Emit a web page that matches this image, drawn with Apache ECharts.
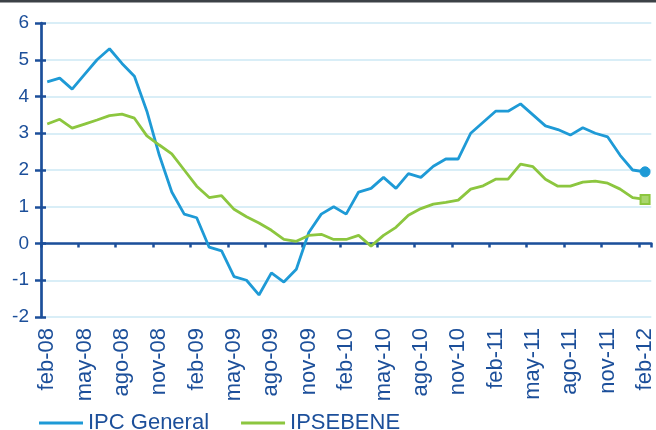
<!DOCTYPE html>
<html>
<head>
<meta charset="utf-8">
<script src="https://cdn.jsdelivr.net/npm/echarts@6/dist/echarts.min.js"></script>
<style>
  html, body { margin: 0; padding: 0; background: #fff; }
  #chart { width: 656px; height: 430px; }
</style>
</head>
<body>
<div id="chart"></div>
<script>
// months feb-08 .. feb-12
const months = [
  'feb-08', 'mar-08', 'abr-08', 'may-08', 'jun-08', 'jul-08', 'ago-08', 'sep-08', 'oct-08', 'nov-08', 'dic-08',
  'ene-09', 'feb-09', 'mar-09', 'abr-09', 'may-09', 'jun-09', 'jul-09', 'ago-09', 'sep-09', 'oct-09', 'nov-09', 'dic-09',
  'ene-10', 'feb-10', 'mar-10', 'abr-10', 'may-10', 'jun-10', 'jul-10', 'ago-10', 'sep-10', 'oct-10', 'nov-10', 'dic-10',
  'ene-11', 'feb-11', 'mar-11', 'abr-11', 'may-11', 'jun-11', 'jul-11', 'ago-11', 'sep-11', 'oct-11', 'nov-11', 'dic-11',
  'ene-12', 'feb-12'
];

const ipcGeneral = [
  4.4, 4.5, 4.2, 4.6, 5.0, 5.3, 4.9, 4.55, 3.6, 2.4, 1.4,
  0.8, 0.7, -0.1, -0.2, -0.9, -1.0, -1.4, -0.8, -1.05, -0.7, 0.3, 0.8,
  1.0, 0.8, 1.4, 1.5, 1.8, 1.5, 1.9, 1.8, 2.1, 2.3, 2.3, 3.0,
  3.3, 3.6, 3.6, 3.8, 3.5, 3.2, 3.1, 2.95, 3.15, 3.0, 2.9, 2.4,
  2.0, 1.95
];

const ipsebene = [
  3.25, 3.38, 3.14, 3.25, 3.36, 3.48, 3.52, 3.41, 2.93, 2.68, 2.44,
  2.0, 1.56, 1.25, 1.3, 0.93, 0.73, 0.56, 0.36, 0.11, 0.06, 0.22, 0.25,
  0.11, 0.11, 0.22, -0.07, 0.22, 0.44, 0.77, 0.95, 1.07, 1.12, 1.18, 1.48,
  1.57, 1.75, 1.75, 2.16, 2.09, 1.75, 1.56, 1.56, 1.67, 1.7, 1.64, 1.48,
  1.25, 1.2
];

const axisColor = '#1c4f9a';
const blue = '#1e9ad6';
const green = '#8cc63f';
const font = '"Liberation Sans", Arial, sans-serif';

// only the last point gets a marker
function withEndMarker(values, symbol, size, style) {
  return values.map((v, i) => i === values.length - 1
    ? {value: v, symbol: symbol, symbolSize: size, itemStyle: style}
    : v);
}

const chart = echarts.init(document.getElementById('chart'), null, {renderer: 'canvas'});

chart.setOption({
  animation: false,
  textStyle: {fontFamily: font},
  graphic: [{
    type: 'rect', left: 0, top: 0,
    shape: {width: 656, height: 2.5},
    style: {fill: '#3c4146'}
  }],
  grid: {left: 41, top: 23, width: 617, height: 294, containLabel: false},
  legend: {
    data: ['IPC General', 'IPSEBENE'],
    left: 39, top: 412, padding: 0,
    icon: 'rect', itemWidth: 44, itemHeight: 3, itemGap: 32,
    textStyle: {color: axisColor, fontSize: 22, fontFamily: font}
  },
  xAxis: [{
    type: 'category',
    data: months,
    boundaryGap: true,
    position: 'bottom',
    axisLine: {show: false, onZero: false},
    axisTick: {show: false},
    axisLabel: {
      interval: 2, rotate: 90, margin: 11,
      color: axisColor, fontSize: 22, fontFamily: font
    },
    splitLine: {show: false}
  }, {
    type: 'category',
    data: months,
    boundaryGap: true,
    position: 'bottom',
    axisLine: {show: true, onZero: true, lineStyle: {color: axisColor, width: 2.7}},
    axisTick: {show: true, interval: 2, length: 4, lineStyle: {color: axisColor, width: 2.5}},
    axisLabel: {show: false},
    splitLine: {show: false}
  }],
  yAxis: [{
    type: 'value',
    min: -2, max: 6, interval: 1,
    axisLine: {show: true, lineStyle: {color: axisColor, width: 2.7}},
    axisTick: {show: true, length: 6, lineStyle: {color: axisColor, width: 2.5}},
    axisLabel: {margin: 12, color: axisColor, fontSize: 19, fontFamily: font},
    splitLine: {show: true, lineStyle: {color: '#cde8f5', width: 1.5}}
  }, {
    type: 'value',
    min: -2, max: 6, interval: 1,
    position: 'left',
    axisLine: {show: false},
    axisTick: {show: true, inside: true, length: 5, lineStyle: {color: axisColor, width: 2.5}},
    axisLabel: {show: false},
    splitLine: {show: false}
  }],
  series: [{
    name: 'IPC General',
    type: 'line',
    xAxisIndex: 0,
    yAxisIndex: 0,
    symbol: 'none',
    data: withEndMarker(ipcGeneral, 'circle', 10, {color: blue, borderColor: blue}),
    lineStyle: {color: blue, width: 2.8},
    itemStyle: {color: blue}
  }, {
    name: 'IPSEBENE',
    type: 'line',
    xAxisIndex: 0,
    yAxisIndex: 0,
    symbol: 'none',
    data: withEndMarker(ipsebene, 'rect', 9, {color: '#a9d66e', borderColor: green, borderWidth: 2}),
    lineStyle: {color: green, width: 2.8},
    itemStyle: {color: green}
  }]
});
</script>
</body>
</html>
